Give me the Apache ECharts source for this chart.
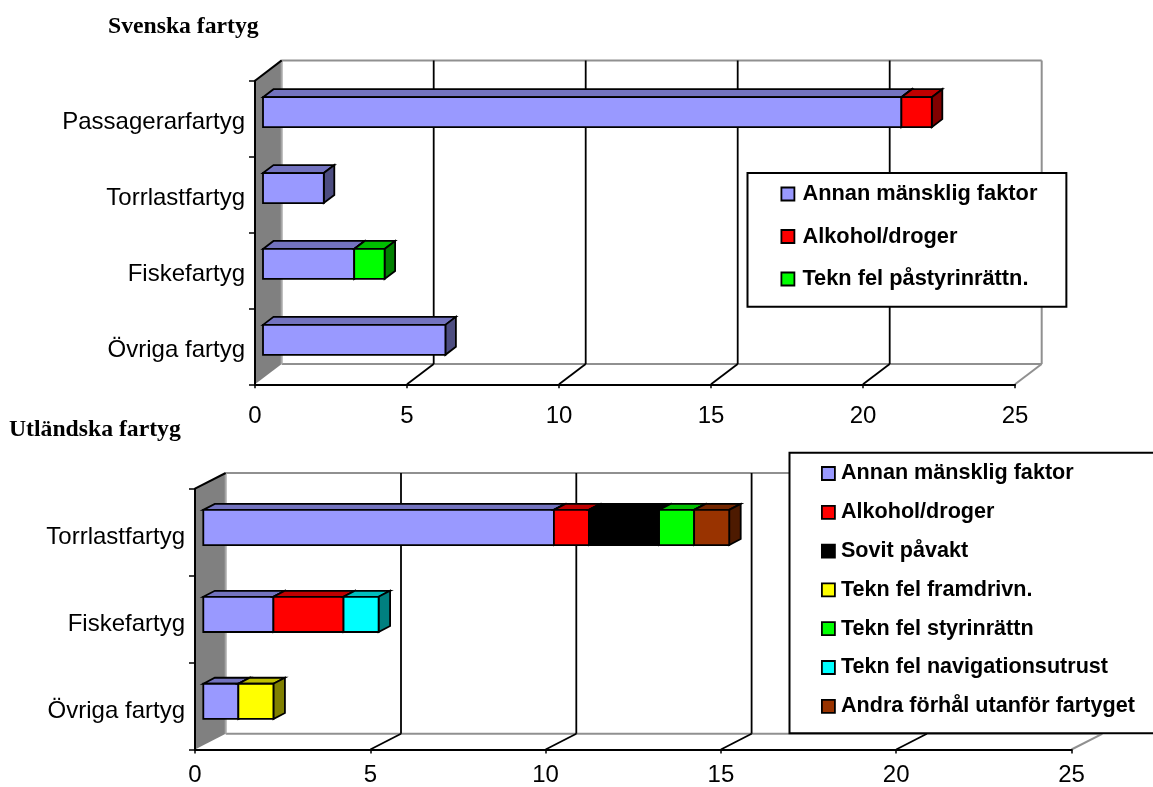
<!DOCTYPE html>
<html><head><meta charset="utf-8">
<style>html,body{margin:0;padding:0;background:#fff}#c{width:1153px;height:787px}</style>
<script src="https://cdn.jsdelivr.net/npm/echarts@6/dist/echarts.min.js"></script>
</head><body><div id="c"></div>
<script>
const xTicks = [0, 5, 10, 15, 20, 25];

const catsSv = ['Passagerarfartyg', 'Torrlastfartyg', 'Fiskefartyg', 'Övriga fartyg'];
const svAnnan = [21, 2, 3, 6];
const svAlkohol = [1, 0, 0, 0];
const svStyr = [0, 0, 1, 0];

const catsUt = ['Torrlastfartyg', 'Fiskefartyg', 'Övriga fartyg'];
const utAnnan = [10, 2, 1];
const utAlkohol = [1, 2, 0];
const utSovit = [2, 0, 0];
const utFramdrivn = [0, 0, 1];
const utStyr = [1, 0, 0];
const utNavig = [0, 1, 0];
const utAndra = [1, 0, 0];

const C = {
  annan: ['#9999FF', '#7373BF', '#4D4D80'],
  alk: ['#FF0000', '#BF0000', '#800000'],
  sov: ['#000000', '#000000', '#000000'],
  fram: ['#FFFF00', '#BFBF00', '#808000'],
  styr: ['#00FF00', '#00BF00', '#008000'],
  nav: ['#00FFFF', '#00BFBF', '#008080'],
  andra: ['#993300', '#732600', '#4D1A00']
};

const seriesSv = [
  ['Annan mänsklig faktor', svAnnan, C.annan],
  ['Alkohol/droger', svAlkohol, C.alk],
  ['Tekn fel påstyrinrättn.', svStyr, C.styr]
];
const seriesUt = [
  ['Annan mänsklig faktor', utAnnan, C.annan],
  ['Alkohol/droger', utAlkohol, C.alk],
  ['Sovit påvakt', utSovit, C.sov],
  ['Tekn fel framdrivn.', utFramdrivn, C.fram],
  ['Tekn fel styrinrättn', utStyr, C.styr],
  ['Tekn fel navigationsutrust', utNavig, C.nav],
  ['Andra förhål utanför fartyget', utAndra, C.andra]
];

const GRAY = '#909090';
const EDGE = { stroke: '#000', lineWidth: 1.8, lineJoin: 'miter' };

function wallSeries(idx, backX, backY) {
  return {
    type: 'custom', xAxisIndex: idx, yAxisIndex: idx, z: 1, silent: true,
    data: xTicks.map(t => [t, 0]),
    encode: { x: 0, y: 1 },
    renderItem(params, api) {
      const t = api.value(0), cs = params.coordSys;
      const fx = api.coord([t, 0])[0], fb = cs.y + cs.height, ft = cs.y;
      const bx = fx + backX, bb = fb + backY, bt = ft + backY;
      const items = [];
      const line = (x1, y1, x2, y2, stroke, w) => ({
        type: 'line', shape: { x1, y1, x2, y2 }, style: { stroke, lineWidth: w }
      });
      if (t === 0) {
        const r = cs.x + cs.width + backX;
        items.push({ type: 'polygon', shape: { points: [[fx, ft], [bx, bt], [bx, bb], [fx, fb]] },
          style: { fill: '#808080' } });
        items.push(line(bx, bt, r, bt, GRAY, 2));
        items.push(line(bx, bb, r, bb, GRAY, 2));
        items.push(line(bx, bt, bx, bb, '#A6A6A6', 2));
        items.push(line(fx, ft, bx, bt, '#000', 2));
      } else if (t === xTicks[xTicks.length - 1]) {
        items.push(line(bx, bt, bx, bb, GRAY, 2));
        items.push(line(fx, fb, bx, bb, GRAY, 2));
      } else {
        items.push(line(bx, bt, bx, bb, '#000', 1.8));
        items.push(line(fx, fb, bx, bb, '#000', 1.8));
      }
      return { type: 'group', children: items };
    }
  };
}

function prismSeries(idx, def, all, pos, geo) {
  const [name, values, col] = def;
  const data = [];
  values.forEach((v, i) => {
    if (!v) return;
    let s = 0;
    for (let k = 0; k < pos; k++) s += all[k][1][i];
    data.push([s, s + v, i]);
  });
  return {
    type: 'custom', name, xAxisIndex: idx, yAxisIndex: idx, z: 2, silent: true,
    itemStyle: { color: col[0] },
    data, encode: { x: [0, 1], y: 2 },
    renderItem(params, api) {
      const a = api.coord([api.value(0), api.value(2)]);
      const b = api.coord([api.value(1), api.value(2)]);
      const h = api.size([0, 1])[1] * geo.ratio;
      const x1 = a[0] + geo.sx, x2 = b[0] + geo.sx;
      const yc = a[1] + geo.sy, y1 = yc - h / 2, y2 = yc + h / 2;
      const dx = geo.dx, dy = geo.dy;
      const poly = (points, fill) => ({ type: 'polygon', shape: { points }, style: { fill, ...EDGE } });
      return { type: 'group', children: [
        poly([[x1, y1], [x1 + dx, y1 + dy], [x2 + dx, y1 + dy], [x2, y1]], col[1]),
        poly([[x2, y1], [x2 + dx, y1 + dy], [x2 + dx, y2 + dy], [x2, y2]], col[2]),
        poly([[x1, y1], [x2, y1], [x2, y2], [x1, y2]], col[0])
      ] };
    }
  };
}

function axes(idx, cats, labelMargin, catPad) {
  return {
    x: {
      type: 'value', gridIndex: idx, min: 0, max: 25, interval: 5, z: 3,
      splitLine: { show: false },
      axisLine: { show: true, onZero: false, lineStyle: { color: '#000', width: 2 } },
      axisTick: { show: true, length: 4, lineStyle: { color: '#000', width: 1.5 } },
      axisLabel: { color: '#000', fontFamily: 'Liberation Sans', fontSize: 24, margin: labelMargin }
    },
    y: {
      type: 'category', gridIndex: idx, data: cats, inverse: true, z: 3,
      splitLine: { show: false },
      axisLine: { show: true, lineStyle: { color: '#000', width: 2 } },
      axisTick: { show: true, length: 6, lineStyle: { color: '#000', width: 1.5 } },
      axisLabel: {
        color: '#000', fontFamily: 'Liberation Sans', fontSize: 24, margin: 10,
        formatter: v => '{a|' + v + '}',
        rich: { a: { color: '#000', fontFamily: 'Liberation Sans', fontSize: 24, padding: [catPad, 0, 0, 0] } }
      }
    }
  };
}

function legend(defs, opt) {
  return {
    orient: 'vertical', left: opt.left, top: opt.top, padding: opt.padding,
    itemWidth: 13, itemHeight: 13, itemGap: opt.gap, itemStyle: { borderColor: '#000', borderWidth: 1.8 },
    icon: 'rect', selectedMode: false, z: 10,
    backgroundColor: '#fff', borderColor: '#000', borderWidth: 2,
    textStyle: { color: '#000', fontFamily: 'Liberation Sans', fontWeight: 'bold', fontSize: opt.font, padding: [0, 0, 0, opt.textGap] },
    data: defs.map(d => d[0])
  };
}

const a0 = axes(0, catsSv, 20.5, 7.5), a1 = axes(1, catsUt, 13.5, 11);
const geo0 = { sx: 8, sy: -6.5, dx: 10.5, dy: -8, ratio: 0.395 };
const geo1 = { sx: 8.3, sy: -4.7, dx: 11.5, dy: -6, ratio: 0.405 };

const titleStyle = { fontFamily: 'Liberation Serif', fontWeight: 'bold', fontSize: 23.7, color: '#000' };

const option = {
  animation: false,
  backgroundColor: '#fff',
  title: [
    { text: 'Svenska fartyg', left: 108, top: 15, padding: 0, textStyle: titleStyle },
    { text: 'Utländska fartyg', left: 9, top: 418, padding: 0, textStyle: titleStyle }
  ],
  grid: [
    { left: 255, top: 80.7, width: 760, height: 303.6 },
    { left: 195, top: 488.7, width: 876.5, height: 262 }
  ],
  xAxis: [a0.x, a1.x],
  yAxis: [a0.y, a1.y],
  legend: [
    legend(seriesSv, { left: 747.5, top: 173, padding: [10, 29, 16.7, 33], gap: 20.5, font: 21.8, textGap: 3 }),
    legend(seriesUt, { left: 789.5, top: 452.7, padding: [9.8, 60, 15.9, 31.5], gap: 16.8, font: 21.6, textGap: 1 })
  ],
  series: [
    wallSeries(0, 26.7, -20.3),
    ...seriesSv.map((d, i) => prismSeries(0, d, seriesSv, i, geo0)),
    wallSeries(1, 30.7, -15.7),
    ...seriesUt.map((d, i) => prismSeries(1, d, seriesUt, i, geo1))
  ]
};
echarts.init(document.getElementById('c'), null, { renderer: 'canvas' }).setOption(option);
</script></body></html>
